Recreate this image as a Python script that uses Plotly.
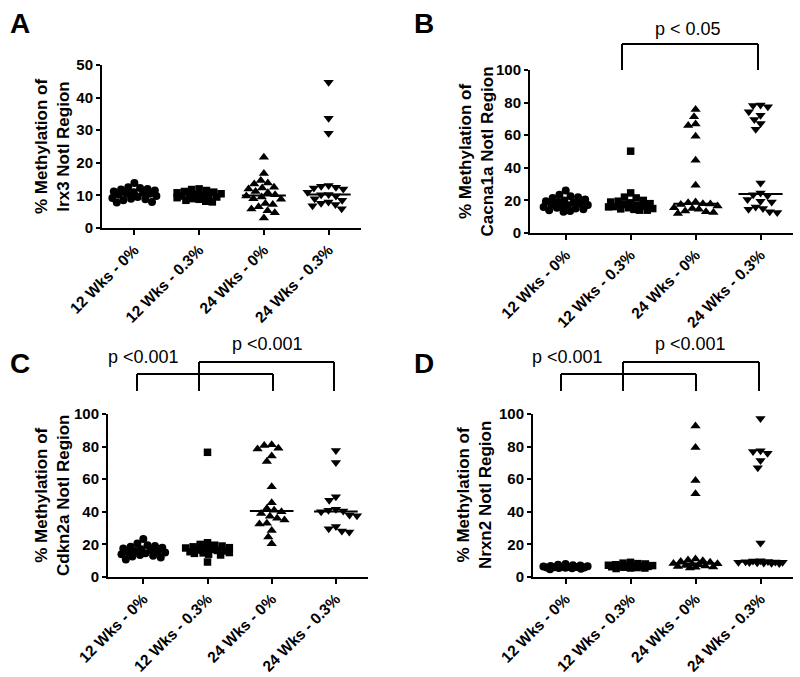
import numpy as np
import plotly.graph_objects as go

categories = ["12 Wks - 0%", "12 Wks - 0.3%", "24 Wks - 0%", "24 Wks - 0.3%"]

# Panel A: Irx3
irx3_12w_0 = [13.8, 12.5, 12.3, 12.0, 11.8, 11.5, 11.2, 11.0, 10.8, 10.5, 10.5, 10.2, 9.8, 9.5, 9.2, 9.0, 8.8, 8.5, 8.0, 7.8]
irx3_12w_03 = [12.0, 11.8, 11.5, 11.2, 11.0, 10.8, 10.5, 10.3, 10.2, 10.2, 10.0, 9.8, 9.5, 9.3, 9.0, 8.8, 8.5, 8.2, 8.0]
irx3_24w_0 = [21.7, 16.7, 14.6, 13.8, 13.5, 12.5, 12.3, 12.0, 11.2, 10.8, 10.2, 9.8, 9.5, 9.0, 8.8, 7.5, 7.2, 6.5, 5.8, 5.3, 4.7, 3.1]
irx3_24w_03 = [44.7, 33.7, 29.1, 13.0, 12.8, 12.5, 12.3, 12.0, 11.0, 10.3, 10.2, 9.8, 9.0, 8.5, 8.0, 7.6, 7.2, 6.8, 5.9]

# Panel B: Cacna1a
cacna_12w_0 = [26.0, 23.5, 22.5, 22.0, 21.5, 20.5, 20.0, 19.5, 19.0, 18.5, 18.0, 17.5, 17.2, 17.0, 16.5, 16.0, 15.5, 15.0, 14.5, 14.0, 13.5, 13.0]
cacna_12w_03 = [50.2, 24.6, 22.0, 21.5, 20.0, 19.5, 19.0, 18.5, 18.0, 17.5, 17.0, 16.5, 16.2, 16.0, 15.5, 15.0, 14.8, 14.5, 14.0, 14.0]
cacna_24w_0 = [75.8, 71.3, 66.8, 66.0, 59.4, 44.7, 29.3, 19.0, 18.5, 18.0, 17.8, 17.5, 16.5, 15.5, 15.0, 14.5, 13.5, 13.0, 12.5, 12.0]
cacna_24w_03 = [78.5, 78.2, 77.5, 74.4, 72.3, 69.7, 67.2, 63.7, 30.6, 24.5, 23.5, 22.8, 20.5, 19.5, 19.0, 16.0, 15.0, 14.5, 13.0, 12.5]

# Panel C: Cdkn2a
cdkn_12w_0 = [23.3, 20.5, 19.5, 19.0, 18.5, 18.0, 17.5, 17.0, 16.5, 16.0, 15.5, 15.2, 15.0, 14.5, 14.0, 13.5, 13.0, 12.5, 12.0, 10.8]
cdkn_12w_03 = [76.5, 21.0, 20.0, 19.5, 19.0, 18.5, 18.0, 17.8, 17.5, 17.0, 16.5, 16.3, 16.0, 15.5, 15.0, 14.8, 14.5, 14.0, 13.5, 9.2]
cdkn_24w_0 = [81.1, 80.7, 79.0, 78.6, 74.3, 70.8, 55.3, 45.5, 42.0, 41.0, 40.0, 39.0, 37.2, 36.0, 35.0, 33.0, 32.5, 28.6, 24.5, 20.4]
cdkn_24w_03 = [77.6, 70.2, 49.2, 47.1, 41.5, 41.0, 40.5, 40.0, 38.0, 37.5, 31.0, 29.6, 28.2, 27.6]

# Panel D: Nrxn2
nrxn_12w_0 = [8.0, 7.5, 7.2, 7.0, 6.8, 6.6, 6.5, 6.3, 6.2, 6.1, 6.0, 5.9, 5.8, 5.6, 5.5, 5.3, 5.0, 4.8]
nrxn_12w_03 = [9.0, 8.5, 8.2, 8.0, 7.5, 7.2, 7.0, 7.0, 6.9, 6.8, 6.7, 6.5, 6.3, 6.0, 5.8, 5.5, 5.5, 5.2]
nrxn_24w_0 = [92.7, 79.4, 59.2, 51.0, 11.0, 10.5, 10.0, 9.5, 9.0, 8.3, 8.2, 8.0, 7.5, 7.0, 6.8, 6.5, 6.2, 6.0, 5.5]
nrxn_24w_03 = [97.3, 77.5, 77.0, 75.9, 71.4, 67.1, 20.8, 10.0, 9.8, 9.5, 9.3, 9.2, 9.1, 9.0, 8.9, 8.8, 8.6, 8.5, 8.3]

symbols = ["circle", "square", "triangle-up", "triangle-down"]
sizes = [8, 7.5, 9, 9]

W, H = 800, 677
FONT = "Liberation Sans, Arial, Helvetica, sans-serif"


def swarm_offsets(values, x_scale, y_scale, d=7.5, cap=0.34):
    vals = np.asarray(values, float)
    order = np.argsort(-vals, kind="stable")
    ypx = vals * y_scale
    xs = np.zeros(len(vals))
    placed = []
    capx = cap * x_scale
    for i in order:
        y = ypx[i]
        cands = [0.0]
        for (px, py) in placed:
            dy = abs(py - y)
            if dy < d:
                dx = np.sqrt(d * d - dy * dy)
                cands += [px + dx, px - dx]
        cands = sorted(set(cands), key=lambda c: (abs(c), c))
        chosen = None
        for c in cands:
            if abs(c) > capx + 1e-9:
                continue
            if all((c - px) ** 2 + (y - py) ** 2 >= d * d - 1e-6 for px, py in placed):
                chosen = c
                break
        if chosen is None:
            grid = np.linspace(-capx, capx, 41)
            chosen = max(grid, key=lambda c: min((c - px) ** 2 + (y - py) ** 2 for px, py in placed))
        placed.append((chosen, y))
        xs[i] = chosen / x_scale
    return xs


panels = [
    dict(letter="A", groups=[irx3_12w_0, irx3_12w_03, irx3_24w_0, irx3_24w_03], ymax=50, dtick=10,
         px=(102, 361, 65, 228), xr=[-0.5, 3.5], gene="Irx3", tx=52.5, lp=(19.5, 23)),
    dict(letter="B", groups=[cacna_12w_0, cacna_12w_03, cacna_24w_0, cacna_24w_03], ymax=100, dtick=20,
         px=(530, 793, 70, 233), xr=[-0.55, 3.5], gene="Cacna1a", tx=476, lp=(423.5, 23)),
    dict(letter="C", groups=[cdkn_12w_0, cdkn_12w_03, cdkn_24w_0, cdkn_24w_03], ymax=100, dtick=20,
         px=(108, 368, 414, 577), xr=[-0.55, 3.5], gene="Cdkn2a", tx=52.5, lp=(19.5, 363)),
    dict(letter="D", groups=[nrxn_12w_0, nrxn_12w_03, nrxn_24w_0, nrxn_24w_03], ymax=100, dtick=20,
         px=(533, 793, 414, 577), xr=[-0.5, 3.5], gene="Nrxn2", tx=474.5, lp=(423.5, 363)),
]

fig = go.Figure()
annotations = []
shapes = []

for k, p in enumerate(panels):
    ax = "" if k == 0 else str(k + 1)
    xa, ya = "x" + ax, "y" + ax
    x0, x1, y0, y1 = p["px"]
    xscale = (x1 - x0) / (p["xr"][1] - p["xr"][0])
    yscale = (y1 - y0) / p["ymax"]
    for gi, vals in enumerate(p["groups"]):
        offs = swarm_offsets(vals, xscale, yscale, d=7.5, cap=0.34)
        fig.add_trace(go.Scatter(
            x=gi + offs, y=vals, mode="markers", xaxis=xa, yaxis=ya,
            marker=dict(symbol=symbols[gi], size=sizes[gi], color="black", line=dict(width=0)),
            cliponaxis=False, showlegend=False, hoverinfo="y"))
        med = float(np.median(vals))
        fig.add_trace(go.Scatter(
            x=[gi - 0.34, gi + 0.34], y=[med, med], mode="lines", xaxis=xa, yaxis=ya,
            line=dict(color="black", width=2), showlegend=False, hoverinfo="skip"))
    axis_common = dict(showgrid=False, zeroline=False, showline=True, linecolor="black", linewidth=2,
                       ticks="outside", tickcolor="black", tickwidth=2, automargin=False)
    fig.layout["xaxis" + ax] = dict(
        domain=[x0 / W, x1 / W], anchor=ya, range=p["xr"], ticklen=5,
        tickmode="array", tickvals=[0, 1, 2, 3], ticktext=categories, tickangle=-45,
        tickfont=dict(family=FONT, size=15.5, color="black", weight="bold"),
        **axis_common)
    fig.layout["yaxis" + ax] = dict(
        domain=[1 - y1 / H, 1 - y0 / H], anchor=xa, range=[0, p["ymax"]],
        tickmode="linear", tick0=0, dtick=p["dtick"], ticklen=4,
        tickfont=dict(family=FONT, size=15, color="black", weight="bold"),
        **axis_common)
    annotations.append(dict(
        text="% Methylation of<br>" + p["gene"] + " NotI Region", textangle=-90,
        xref="paper", yref="paper", x=p["tx"] / W, y=1 - ((y0 + y1) / 2) / H,
        xanchor="center", yanchor="middle", showarrow=False,
        font=dict(family=FONT, size=17, color="black", weight="bold")))
    annotations.append(dict(
        text=p["letter"], xref="paper", yref="paper", x=p["lp"][0] / W, y=1 - p["lp"][1] / H,
        xanchor="center", yanchor="middle", showarrow=False,
        font=dict(family=FONT, size=28, color="black", weight="bold")))


def bracket(xl, xr, ytop, ybot):
    for (a, b, c, d) in [(xl, ytop, xr, ytop), (xl, ytop, xl, ybot), (xr, ytop, xr, ybot)]:
        shapes.append(dict(type="line", xref="paper", yref="paper",
                           x0=a / W, y0=1 - b / H, x1=c / W, y1=1 - d / H,
                           line=dict(color="black", width=2)))


def ptext(t, x, y):
    annotations.append(dict(text=t, xref="paper", yref="paper", x=x / W, y=1 - y / H,
                            xanchor="center", yanchor="middle", showarrow=False,
                            font=dict(family=FONT, size=18, color="black")))


bracket(622, 758, 44, 70)
ptext("p < 0.05", 688, 29)
bracket(137, 273, 374, 391)
bracket(199, 334, 362, 391)
ptext("p &lt;0.001", 143, 357)
ptext("p &lt;0.001", 267, 344)
bracket(561, 696, 374, 391)
bracket(623, 759, 362, 391)
ptext("p &lt;0.001", 567, 357)
ptext("p &lt;0.001", 690, 344)

fig.update_layout(width=W, height=H, autosize=False,
                  margin=dict(l=0, r=0, t=0, b=0, pad=0, autoexpand=False),
                  paper_bgcolor="white", plot_bgcolor="white",
                  annotations=annotations, shapes=shapes, showlegend=False)

fig.write_html("out.html", config={"responsive": False, "displayModeBar": False},
               post_script="document.body.style.margin='0';document.body.style.overflow='hidden';")
